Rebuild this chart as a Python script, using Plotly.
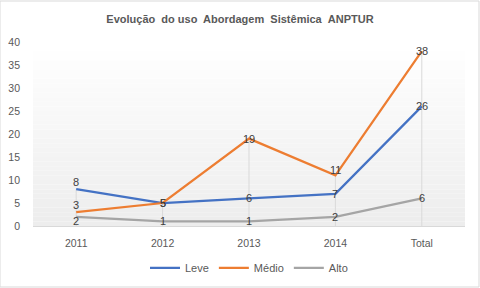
import plotly.graph_objects as go

categories = ["2011", "2012", "2013", "2014", "Total"]
leve = [8, 5, 6, 7, 26]
medio = [3, 5, 19, 11, 38]
alto = [2, 1, 1, 2, 6]
y_ticks = [0, 5, 10, 15, 20, 25, 30, 35, 40]

title_text = "Evolução\u00a0\u00a0do uso\u00a0 Abordagem\u00a0 Sistêmica\u00a0\u00a0ANPTUR"

FONT = "Liberation Sans"
fig = go.Figure()

# gradient plot-area background (white at top to light gray at bottom)
n = 40
for i in range(n):
    t = i / (n - 1)
    c = int(round(255 - (255 - 237) * (1 - t)))
    fig.add_shape(type="rect", xref="x domain", yref="y domain",
                  x0=0, x1=1, y0=i / n, y1=(i + 1) / n,
                  fillcolor=f"rgb({c},{c},{c})", line_width=0, layer="below")

# drop lines from the highest value of each category to the axis
drop_x, drop_y = [], []
for c, a, b, d in zip(categories, leve, medio, alto):
    drop_x += [c, c, None]
    drop_y += [0, max(a, b, d), None]
fig.add_trace(go.Scatter(x=drop_x, y=drop_y, mode="lines",
                         line=dict(color="#d9d9d9", width=1),
                         hoverinfo="skip", showlegend=False))

series = [("Leve", leve, "#4472C4", [7, 0, 0, 0, 0]),
          ("Médio", medio, "#ED7D31", [7, 0, 0, 5, 0]),
          ("Alto", alto, "#A5A5A5", [-4, 0, 0, 0, 0])]
for name, vals, color, shifts in series:
    fig.add_trace(go.Scatter(x=categories, y=vals, name=name, mode="lines",
                             line=dict(color=color, width=2.25)))
    for idx, (v, s) in enumerate(zip(vals, shifts)):
        fig.add_annotation(x=idx, y=v, text=str(v), showarrow=False, yshift=s,
                           xanchor="center", yanchor="middle",
                           font=dict(family=FONT, size=11, color="#404040"))

fig.update_layout(
    width=480, height=288,
    margin=dict(l=33, r=15, t=42, b=62, autoexpand=False),
    paper_bgcolor="white", plot_bgcolor="rgba(0,0,0,0)",
    title=dict(text=f"<b>{title_text}</b>", x=0.5, xanchor="center", y=0.935, yanchor="middle",
               font=dict(family=FONT, size=11, color="#595959")),
    font=dict(family=FONT, size=10, color="#595959"),
    showlegend=True,
    legend=dict(orientation="h", x=0.5, xanchor="center", y=0.07, yanchor="middle",
                yref="container",
                font=dict(family=FONT, size=11, color="#595959"),
                itemwidth=30, tracegroupgap=0),
    xaxis=dict(type="category", range=[-0.5, 4.5], showgrid=False, showline=True,
               linecolor="#d9d9d9", linewidth=1, ticks="", zeroline=False,
               ticklabelstandoff=7, automargin=False,
               tickfont=dict(family=FONT, size=10.5, color="#595959")),
    yaxis=dict(range=[0, 40], tickvals=y_ticks, showgrid=False, zeroline=False,
               showline=False, ticks="", ticklabelstandoff=12, automargin=False,
               tickfont=dict(family=FONT, size=10.5, color="#595959")),
)

# outer chart border
fig.add_shape(type="rect", xref="paper", yref="paper", x0=-33/432, x1=1 + 14/432,
              y0=-61/184, y1=1 + 41/184, line=dict(color="#d9d9d9", width=1),
              fillcolor="rgba(0,0,0,0)")

fig.write_html("out.html", config={"displayModeBar": False},
               post_script="document.body.style.margin='0';document.body.style.overflow='hidden';")
